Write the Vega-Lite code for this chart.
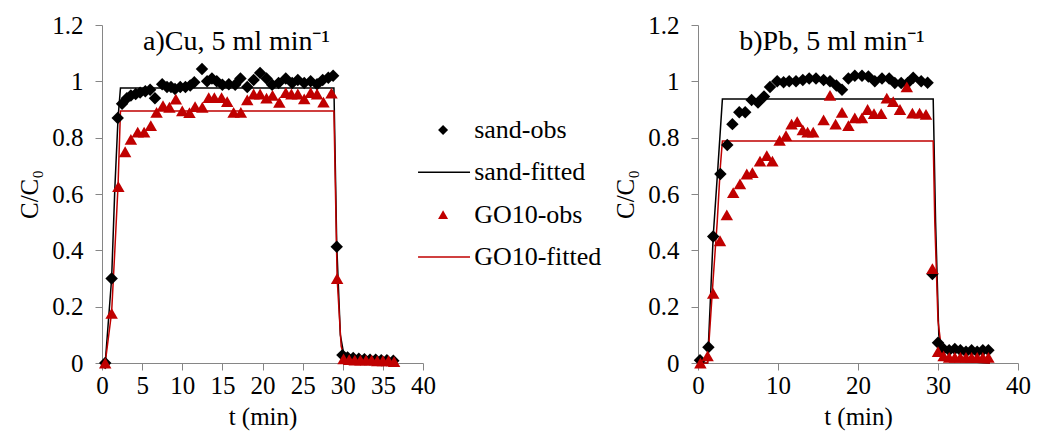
{
  "$schema": "https://vega.github.io/schema/vega-lite/v6.json",
  "background": "white",
  "padding": {"left": 17, "top": 13, "right": 5, "bottom": 5},
  "bounds": "flush",
  "spacing": 0,
  "config": {
    "view": {"stroke": null},
    "font": "Liberation Serif, Times New Roman, Times, serif",
    "text": {"font": "Liberation Serif, Times New Roman, Times, serif"},
    "axis": {
      "grid": false,
      "domainColor": "#868686",
      "tickColor": "#868686",
      "labelFont": "Liberation Serif, Times New Roman, Times, serif",
      "labelFontSize": 25,
      "labelColor": "#000000",
      "labelFlush": false,
      "titleFont": "Liberation Serif, Times New Roman, Times, serif",
      "titleFontSize": 25,
      "titleFontWeight": "normal",
      "titleColor": "#000000",
      "tickSize": 7
    },
    "axisY": {"labelPadding": 12, "titlePadding": 9},
    "axisX": {"labelPadding": 3, "titlePadding": 6}
  },
  "datasets": {
    "cu": [
      {"t":0.4,"c":0.0,"s":"sand-obs"},{"t":1.2,"c":0.30,"s":"sand-obs"},{"t":1.96,"c":0.87,"s":"sand-obs"},{"t":2.5,"c":0.92,"s":"sand-obs"},{"t":3.1,"c":0.94,"s":"sand-obs"},{"t":3.6,"c":0.95,"s":"sand-obs"},{"t":4.2,"c":0.955,"s":"sand-obs"},{"t":4.75,"c":0.96,"s":"sand-obs"},{"t":5.4,"c":0.965,"s":"sand-obs"},{"t":6.0,"c":0.97,"s":"sand-obs"},{"t":6.6,"c":0.94,"s":"sand-obs"},{"t":7.5,"c":0.99,"s":"sand-obs"},{"t":8.1,"c":0.98,"s":"sand-obs"},{"t":8.6,"c":0.98,"s":"sand-obs"},{"t":9.1,"c":0.973,"s":"sand-obs"},{"t":9.75,"c":0.98,"s":"sand-obs"},{"t":10.4,"c":0.98,"s":"sand-obs"},{"t":11.0,"c":0.985,"s":"sand-obs"},{"t":11.5,"c":0.997,"s":"sand-obs"},{"t":12.46,"c":1.044,"s":"sand-obs"},{"t":13.1,"c":1.0,"s":"sand-obs"},{"t":13.7,"c":1.01,"s":"sand-obs"},{"t":14.3,"c":1.0,"s":"sand-obs"},{"t":15.0,"c":0.988,"s":"sand-obs"},{"t":15.8,"c":0.99,"s":"sand-obs"},{"t":16.6,"c":0.988,"s":"sand-obs"},{"t":17.25,"c":1.01,"s":"sand-obs"},{"t":18.1,"c":0.98,"s":"sand-obs"},{"t":18.9,"c":1.005,"s":"sand-obs"},{"t":19.7,"c":1.03,"s":"sand-obs"},{"t":20.5,"c":1.01,"s":"sand-obs"},{"t":21.2,"c":0.988,"s":"sand-obs"},{"t":22.0,"c":0.994,"s":"sand-obs"},{"t":22.9,"c":1.01,"s":"sand-obs"},{"t":23.7,"c":0.994,"s":"sand-obs"},{"t":24.4,"c":1.005,"s":"sand-obs"},{"t":25.2,"c":0.994,"s":"sand-obs"},{"t":26.0,"c":1.0,"s":"sand-obs"},{"t":26.8,"c":0.99,"s":"sand-obs"},{"t":27.5,"c":1.005,"s":"sand-obs"},{"t":28.2,"c":1.013,"s":"sand-obs"},{"t":28.8,"c":1.02,"s":"sand-obs"},{"t":29.25,"c":0.413,"s":"sand-obs"},{"t":29.96,"c":0.028,"s":"sand-obs"},{"t":30.6,"c":0.02,"s":"sand-obs"},{"t":31.3,"c":0.018,"s":"sand-obs"},{"t":32.0,"c":0.015,"s":"sand-obs"},{"t":32.7,"c":0.013,"s":"sand-obs"},{"t":33.4,"c":0.012,"s":"sand-obs"},{"t":34.1,"c":0.012,"s":"sand-obs"},{"t":34.8,"c":0.01,"s":"sand-obs"},{"t":35.5,"c":0.01,"s":"sand-obs"},{"t":36.3,"c":0.008,"s":"sand-obs"},
      {"t":0.4,"c":0.0,"s":"GO10-obs"},{"t":1.2,"c":0.176,"s":"GO10-obs"},{"t":2.04,"c":0.626,"s":"GO10-obs"},{"t":2.88,"c":0.75,"s":"GO10-obs"},{"t":3.6,"c":0.794,"s":"GO10-obs"},{"t":4.45,"c":0.82,"s":"GO10-obs"},{"t":5.25,"c":0.82,"s":"GO10-obs"},{"t":6.08,"c":0.843,"s":"GO10-obs"},{"t":6.8,"c":0.89,"s":"GO10-obs"},{"t":7.6,"c":0.914,"s":"GO10-obs"},{"t":8.4,"c":0.908,"s":"GO10-obs"},{"t":9.2,"c":0.937,"s":"GO10-obs"},{"t":10.0,"c":0.895,"s":"GO10-obs"},{"t":10.9,"c":0.889,"s":"GO10-obs"},{"t":11.6,"c":0.91,"s":"GO10-obs"},{"t":12.5,"c":0.908,"s":"GO10-obs"},{"t":13.3,"c":0.942,"s":"GO10-obs"},{"t":14.0,"c":0.942,"s":"GO10-obs"},{"t":14.9,"c":0.942,"s":"GO10-obs"},{"t":15.6,"c":0.928,"s":"GO10-obs"},{"t":16.4,"c":0.89,"s":"GO10-obs"},{"t":17.3,"c":0.89,"s":"GO10-obs"},{"t":18.1,"c":0.934,"s":"GO10-obs"},{"t":18.9,"c":0.955,"s":"GO10-obs"},{"t":19.7,"c":0.955,"s":"GO10-obs"},{"t":20.5,"c":0.94,"s":"GO10-obs"},{"t":21.25,"c":0.95,"s":"GO10-obs"},{"t":22.1,"c":0.925,"s":"GO10-obs"},{"t":22.9,"c":0.96,"s":"GO10-obs"},{"t":23.6,"c":0.955,"s":"GO10-obs"},{"t":24.4,"c":0.955,"s":"GO10-obs"},{"t":25.2,"c":0.938,"s":"GO10-obs"},{"t":26.0,"c":0.96,"s":"GO10-obs"},{"t":26.8,"c":0.955,"s":"GO10-obs"},{"t":27.6,"c":0.926,"s":"GO10-obs"},{"t":28.6,"c":0.958,"s":"GO10-obs"},{"t":29.3,"c":0.30,"s":"GO10-obs"},{"t":30.1,"c":0.015,"s":"GO10-obs"},{"t":30.8,"c":0.012,"s":"GO10-obs"},{"t":31.5,"c":0.01,"s":"GO10-obs"},{"t":32.2,"c":0.01,"s":"GO10-obs"},{"t":32.9,"c":0.01,"s":"GO10-obs"},{"t":33.6,"c":0.01,"s":"GO10-obs"},{"t":34.3,"c":0.008,"s":"GO10-obs"},{"t":35.0,"c":0.008,"s":"GO10-obs"},{"t":35.7,"c":0.008,"s":"GO10-obs"},{"t":36.4,"c":0.005,"s":"GO10-obs"},
      {"t":0.4,"c":0.0,"s":"sand-fitted"},{"t":1.2,"c":0.30,"s":"sand-fitted"},{"t":1.6,"c":0.62,"s":"sand-fitted"},{"t":2.0,"c":0.87,"s":"sand-fitted"},{"t":2.3,"c":0.976,"s":"sand-fitted"},{"t":28.9,"c":0.976,"s":"sand-fitted"},{"t":29.25,"c":0.42,"s":"sand-fitted"},{"t":29.7,"c":0.1,"s":"sand-fitted"},{"t":30.2,"c":0.02,"s":"sand-fitted"},{"t":36.6,"c":0.01,"s":"sand-fitted"},
      {"t":0.4,"c":0.0,"s":"GO10-fitted"},{"t":1.2,"c":0.18,"s":"GO10-fitted"},{"t":1.6,"c":0.4,"s":"GO10-fitted"},{"t":2.0,"c":0.63,"s":"GO10-fitted"},{"t":2.3,"c":0.895,"s":"GO10-fitted"},{"t":28.9,"c":0.895,"s":"GO10-fitted"},{"t":29.3,"c":0.30,"s":"GO10-fitted"},{"t":29.8,"c":0.06,"s":"GO10-fitted"},{"t":30.3,"c":0.01,"s":"GO10-fitted"},{"t":36.6,"c":0.005,"s":"GO10-fitted"}
    ],
    "pb": [
      {"t":0.25,"c":0.01,"s":"sand-obs"},{"t":1.3,"c":0.056,"s":"sand-obs"},{"t":1.9,"c":0.449,"s":"sand-obs"},{"t":2.8,"c":0.671,"s":"sand-obs"},{"t":3.66,"c":0.774,"s":"sand-obs"},{"t":4.3,"c":0.848,"s":"sand-obs"},{"t":5.16,"c":0.89,"s":"sand-obs"},{"t":5.9,"c":0.89,"s":"sand-obs"},{"t":6.7,"c":0.934,"s":"sand-obs"},{"t":7.5,"c":0.925,"s":"sand-obs"},{"t":8.25,"c":0.946,"s":"sand-obs"},{"t":9.0,"c":0.98,"s":"sand-obs"},{"t":9.9,"c":1.0,"s":"sand-obs"},{"t":10.7,"c":0.997,"s":"sand-obs"},{"t":11.4,"c":1.0,"s":"sand-obs"},{"t":12.25,"c":1.0,"s":"sand-obs"},{"t":13.1,"c":1.005,"s":"sand-obs"},{"t":13.9,"c":1.01,"s":"sand-obs"},{"t":14.75,"c":1.01,"s":"sand-obs"},{"t":15.7,"c":1.005,"s":"sand-obs"},{"t":16.5,"c":1.0,"s":"sand-obs"},{"t":17.3,"c":0.985,"s":"sand-obs"},{"t":18.0,"c":0.97,"s":"sand-obs"},{"t":18.8,"c":1.01,"s":"sand-obs"},{"t":19.6,"c":1.02,"s":"sand-obs"},{"t":20.5,"c":1.02,"s":"sand-obs"},{"t":21.3,"c":1.017,"s":"sand-obs"},{"t":22.1,"c":1.0,"s":"sand-obs"},{"t":23.0,"c":1.01,"s":"sand-obs"},{"t":23.9,"c":1.01,"s":"sand-obs"},{"t":24.6,"c":0.994,"s":"sand-obs"},{"t":25.4,"c":0.994,"s":"sand-obs"},{"t":26.2,"c":0.994,"s":"sand-obs"},{"t":26.9,"c":1.013,"s":"sand-obs"},{"t":27.9,"c":1.0,"s":"sand-obs"},{"t":28.7,"c":0.995,"s":"sand-obs"},{"t":29.3,"c":0.316,"s":"sand-obs"},{"t":30.0,"c":0.072,"s":"sand-obs"},{"t":30.7,"c":0.05,"s":"sand-obs"},{"t":31.4,"c":0.045,"s":"sand-obs"},{"t":32.1,"c":0.05,"s":"sand-obs"},{"t":32.8,"c":0.045,"s":"sand-obs"},{"t":33.5,"c":0.04,"s":"sand-obs"},{"t":34.2,"c":0.045,"s":"sand-obs"},{"t":34.9,"c":0.04,"s":"sand-obs"},{"t":35.6,"c":0.045,"s":"sand-obs"},{"t":36.3,"c":0.045,"s":"sand-obs"},
      {"t":0.3,"c":0.0,"s":"GO10-obs"},{"t":1.2,"c":0.025,"s":"GO10-obs"},{"t":1.9,"c":0.247,"s":"GO10-obs"},{"t":2.75,"c":0.434,"s":"GO10-obs"},{"t":3.6,"c":0.526,"s":"GO10-obs"},{"t":4.4,"c":0.605,"s":"GO10-obs"},{"t":5.25,"c":0.636,"s":"GO10-obs"},{"t":6.1,"c":0.671,"s":"GO10-obs"},{"t":6.8,"c":0.676,"s":"GO10-obs"},{"t":7.75,"c":0.717,"s":"GO10-obs"},{"t":8.6,"c":0.736,"s":"GO10-obs"},{"t":9.3,"c":0.717,"s":"GO10-obs"},{"t":10.2,"c":0.79,"s":"GO10-obs"},{"t":11.0,"c":0.807,"s":"GO10-obs"},{"t":11.7,"c":0.848,"s":"GO10-obs"},{"t":12.4,"c":0.857,"s":"GO10-obs"},{"t":13.1,"c":0.828,"s":"GO10-obs"},{"t":13.7,"c":0.82,"s":"GO10-obs"},{"t":14.4,"c":0.82,"s":"GO10-obs"},{"t":15.7,"c":0.863,"s":"GO10-obs"},{"t":16.5,"c":0.95,"s":"GO10-obs"},{"t":17.2,"c":0.848,"s":"GO10-obs"},{"t":18.0,"c":0.89,"s":"GO10-obs"},{"t":18.8,"c":0.843,"s":"GO10-obs"},{"t":19.6,"c":0.87,"s":"GO10-obs"},{"t":20.5,"c":0.87,"s":"GO10-obs"},{"t":21.2,"c":0.9,"s":"GO10-obs"},{"t":22.0,"c":0.885,"s":"GO10-obs"},{"t":22.9,"c":0.885,"s":"GO10-obs"},{"t":23.6,"c":0.94,"s":"GO10-obs"},{"t":24.4,"c":0.928,"s":"GO10-obs"},{"t":25.25,"c":0.9,"s":"GO10-obs"},{"t":26.1,"c":0.98,"s":"GO10-obs"},{"t":26.8,"c":0.887,"s":"GO10-obs"},{"t":27.7,"c":0.887,"s":"GO10-obs"},{"t":28.5,"c":0.883,"s":"GO10-obs"},{"t":29.3,"c":0.335,"s":"GO10-obs"},{"t":30.0,"c":0.04,"s":"GO10-obs"},{"t":30.7,"c":0.025,"s":"GO10-obs"},{"t":31.4,"c":0.02,"s":"GO10-obs"},{"t":32.1,"c":0.02,"s":"GO10-obs"},{"t":32.8,"c":0.02,"s":"GO10-obs"},{"t":33.5,"c":0.02,"s":"GO10-obs"},{"t":34.2,"c":0.02,"s":"GO10-obs"},{"t":34.9,"c":0.02,"s":"GO10-obs"},{"t":35.6,"c":0.02,"s":"GO10-obs"},{"t":36.3,"c":0.02,"s":"GO10-obs"},
      {"t":0.0,"c":0.0,"s":"sand-fitted"},{"t":1.2,"c":0.0,"s":"sand-fitted"},{"t":1.9,"c":0.45,"s":"sand-fitted"},{"t":2.5,"c":0.7,"s":"sand-fitted"},{"t":3.05,"c":0.937,"s":"sand-fitted"},{"t":29.4,"c":0.937,"s":"sand-fitted"},{"t":29.7,"c":0.5,"s":"sand-fitted"},{"t":30.1,"c":0.1,"s":"sand-fitted"},{"t":30.6,"c":0.01,"s":"sand-fitted"},{"t":36.5,"c":0.0,"s":"sand-fitted"},
      {"t":0.0,"c":0.0,"s":"GO10-fitted"},{"t":1.2,"c":0.0,"s":"GO10-fitted"},{"t":1.9,"c":0.3,"s":"GO10-fitted"},{"t":2.4,"c":0.5,"s":"GO10-fitted"},{"t":2.8,"c":0.7,"s":"GO10-fitted"},{"t":3.05,"c":0.788,"s":"GO10-fitted"},{"t":29.4,"c":0.788,"s":"GO10-fitted"},{"t":29.6,"c":0.5,"s":"GO10-fitted"},{"t":30.0,"c":0.15,"s":"GO10-fitted"},{"t":30.6,"c":0.01,"s":"GO10-fitted"},{"t":36.5,"c":0.0,"s":"GO10-fitted"}
    ],
    "legend": [
      {"s":"sand-obs","kind":"obs"},
      {"s":"sand-fitted","kind":"fitted"},
      {"s":"GO10-obs","kind":"obs"},
      {"s":"GO10-fitted","kind":"fitted"}
    ]
  },
  "hconcat": [
    {
      "width": 321,
      "height": 338,
      "data": {"name": "cu"},
      "layer": [
        {
          "transform": [{"filter": "indexof(datum.s, 'fitted') >= 0"}],
          "mark": {"type": "line", "strokeWidth": 1.5},
          "encoding": {
            "x": {"field": "t", "type": "quantitative", "scale": {"domain": [0, 40]}, "axis": {"values": [0,5,10,15,20,25,30,35,40], "title": "t (min)"}},
            "y": {"field": "c", "type": "quantitative", "scale": {"domain": [0, 1.2]}, "axis": {"values": [0,0.2,0.4,0.6,0.8,1,1.2], "format": "~g", "title": "C/C₀"}},
            "color": {"field": "s", "type": "nominal", "scale": {"domain": ["sand-obs","sand-fitted","GO10-obs","GO10-fitted"], "range": ["#000000","#000000","#c00000","#c00000"]}, "legend": null}
          }
        },
        {
          "transform": [{"filter": "indexof(datum.s, 'obs') >= 0"}],
          "mark": {"type": "point", "filled": true, "opacity": 1, "size": 155},
          "encoding": {
            "x": {"field": "t", "type": "quantitative"},
            "y": {"field": "c", "type": "quantitative"},
            "color": {"field": "s", "type": "nominal", "legend": null},
            "shape": {"field": "s", "type": "nominal", "scale": {"domain": ["sand-obs","GO10-obs"], "range": ["diamond","triangle-up"]}, "legend": null}
          }
        },
        {
          "data": {"values": [{"t": 16.75, "c": 1.14, "label": "a)Cu, 5 ml min⁻¹"}]},
          "mark": {"type": "text", "fontSize": 28, "color": "#000000"},
          "encoding": {
            "x": {"field": "t", "type": "quantitative"},
            "y": {"field": "c", "type": "quantitative"},
            "text": {"field": "label"}
          }
        }
      ]
    },
    {
      "width": 275,
      "height": 338,
      "data": {"name": "legend"},
      "encoding": {
        "y": {"field": "s", "type": "nominal", "scale": {"type": "point", "domain": ["sand-obs","sand-fitted","GO10-obs","GO10-fitted"], "range": [105, 232], "padding": 0}, "axis": null}
      },
      "layer": [
        {
          "transform": [{"filter": "datum.kind == 'fitted'"}],
          "mark": {"type": "rule", "strokeWidth": 1.5},
          "encoding": {
            "x": {"datum": -1.8, "type": "quantitative", "scale": {"domain": [0, 100]}, "axis": null},
            "x2": {"datum": 17.1},
            "color": {"field": "s", "type": "nominal", "scale": {"domain": ["sand-obs","sand-fitted","GO10-obs","GO10-fitted"], "range": ["#000000","#000000","#c00000","#c00000"]}, "legend": null}
          }
        },
        {
          "transform": [{"filter": "datum.kind == 'obs'"}],
          "mark": {"type": "point", "filled": true, "opacity": 1, "size": 100},
          "encoding": {
            "x": {"datum": 7.3, "type": "quantitative"},
            "color": {"field": "s", "type": "nominal", "legend": null},
            "shape": {"field": "s", "type": "nominal", "scale": {"domain": ["sand-obs","GO10-obs"], "range": ["diamond","triangle-up"]}, "legend": null}
          }
        },
        {
          "mark": {"type": "text", "align": "left", "baseline": "middle", "fontSize": 26, "color": "#000000"},
          "encoding": {
            "x": {"datum": 18.6, "type": "quantitative"},
            "text": {"field": "s"}
          }
        }
      ]
    },
    {
      "width": 320,
      "height": 338,
      "data": {"name": "pb"},
      "layer": [
        {
          "transform": [{"filter": "indexof(datum.s, 'fitted') >= 0"}],
          "mark": {"type": "line", "strokeWidth": 1.5},
          "encoding": {
            "x": {"field": "t", "type": "quantitative", "scale": {"domain": [0, 40]}, "axis": {"values": [0,5,10,15,20,25,30,35,40], "title": "t (min)"}},
            "y": {"field": "c", "type": "quantitative", "scale": {"domain": [0, 1.2]}, "axis": {"values": [0,0.2,0.4,0.6,0.8,1,1.2], "format": "~g", "title": "C/C₀"}},
            "color": {"field": "s", "type": "nominal", "scale": {"domain": ["sand-obs","sand-fitted","GO10-obs","GO10-fitted"], "range": ["#000000","#000000","#c00000","#c00000"]}, "legend": null}
          }
        },
        {
          "transform": [{"filter": "indexof(datum.s, 'obs') >= 0"}],
          "mark": {"type": "point", "filled": true, "opacity": 1, "size": 155},
          "encoding": {
            "x": {"field": "t", "type": "quantitative"},
            "y": {"field": "c", "type": "quantitative"},
            "color": {"field": "s", "type": "nominal", "legend": null},
            "shape": {"field": "s", "type": "nominal", "scale": {"domain": ["sand-obs","GO10-obs"], "range": ["diamond","triangle-up"]}, "legend": null}
          }
        },
        {
          "data": {"values": [{"t": 16.75, "c": 1.14, "label": "b)Pb, 5 ml min⁻¹"}]},
          "mark": {"type": "text", "fontSize": 28, "color": "#000000"},
          "encoding": {
            "x": {"field": "t", "type": "quantitative"},
            "y": {"field": "c", "type": "quantitative"},
            "text": {"field": "label"}
          }
        }
      ]
    }
  ]
}
